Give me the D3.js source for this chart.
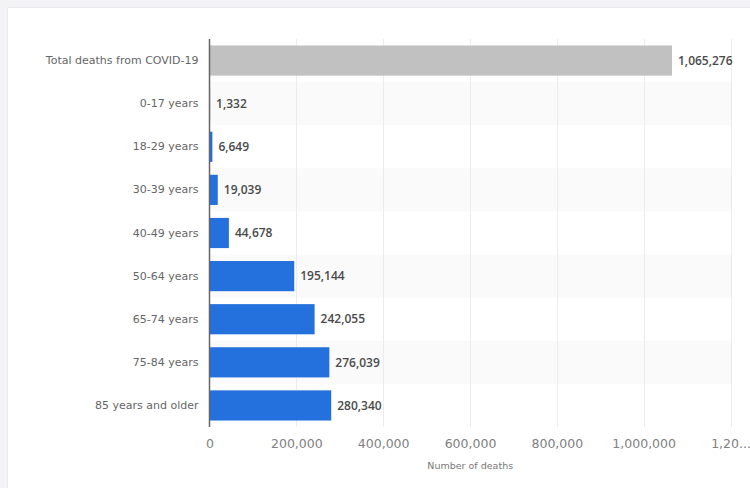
<!DOCTYPE html>
<html>
<head>
<meta charset="utf-8">
<script src="https://cdn.jsdelivr.net/npm/d3@7"></script>
<style>
  body { margin: 0; background: #f3f3f6; }
  #container { width: 750px; height: 488px; position: relative; overflow: hidden; }
  svg { font-family: "DejaVu Sans", Verdana, sans-serif; }
</style>
</head>
<body>
<div id="container"></div>
<script>
const categories = ['Total deaths from COVID-19', '0-17 years', '18-29 years', '30-39 years',
    '40-49 years', '50-64 years', '65-74 years', '75-84 years', '85 years and older']
const deaths = [1065276, 1332, 6649, 19039, 44678, 195144, 242055, 276039, 280340]
const xTicks = [0, 200000, 400000, 600000, 800000, 1000000, 1200000]
const xTickLabels = ['0', '200,000', '400,000', '600,000', '800,000', '1,000,000', '1,20...']

const specs = { width: 750, height: 488, margin: { top: 39, right: 19, bottom: 61, left: 209.5 } }

const svg = d3.select('#container')
    .append('svg').attr('width', specs.width).attr('height', specs.height)

// white card
svg.append('rect')
    .attr('x', 7.5).attr('y', 7.5)
    .attr('width', specs.width).attr('height', specs.height)
    .attr('fill', '#fff').attr('stroke', '#ebebef')

const x0 = specs.margin.left
const x1 = specs.width - specs.margin.right
const y0 = specs.margin.top
const y1 = specs.height - specs.margin.bottom

const xScale = d3.scaleLinear().domain([0, 1200000]).range([x0, x1 - 0.5])
const yScale = d3.scaleBand().domain(categories).range([y0, y1]).paddingInner(0.3).paddingOuter(0.15)
const rowScale = d3.scaleBand().domain(categories).range([y0, y1])

// alternating row bands
svg.append('g').selectAll('rect')
    .data(categories.filter((d, i) => i % 2 === 1))
    .join('rect')
    .attr('x', x0).attr('width', x1 - x0)
    .attr('y', d => rowScale(d)).attr('height', rowScale.bandwidth())
    .attr('fill', '#fafafa')

// gridlines
svg.append('g').selectAll('line')
    .data(xTicks.slice(1))
    .join('line')
    .attr('x1', d => Math.round(xScale(d)) + 0.5).attr('x2', d => Math.round(xScale(d)) + 0.5)
    .attr('y1', y0).attr('y2', y1)
    .attr('stroke', '#ececec')

// bars
svg.append('g').selectAll('rect')
    .data(deaths)
    .join('rect')
    .attr('x', xScale(0))
    .attr('y', (d, i) => yScale(categories[i]))
    .attr('width', d => xScale(d) - xScale(0))
    .attr('height', yScale.bandwidth())
    .attr('fill', (d, i) => i === 0 ? '#c1c1c1' : '#2470dc')

// value labels
svg.append('g').selectAll('text')
    .data(deaths)
    .join('text')
    .attr('x', d => xScale(d) + 6)
    .attr('y', (d, i) => yScale(categories[i]) + yScale.bandwidth() / 2)
    .attr('dy', '0.35em')
    .attr('font-size', 12)
    .attr('font-weight', 600)
    .attr('font-family', '"Open Sans", sans-serif')
    .attr('fill', '#4a4a4a')
    .text(d => d3.format(',')(d))

// y axis
const yAxis = d3.axisLeft(yScale).tickSize(0).tickPadding(11)
const gy = svg.append('g').attr('transform', `translate(${x0},0)`).call(yAxis)
gy.select('.domain').remove()
gy.selectAll('text').attr('font-size', 11).attr('fill', '#666').attr('font-family', '"DejaVu Sans", sans-serif')
svg.append('line')
    .attr('x1', x0).attr('x2', x0).attr('y1', y0).attr('y2', y1)
    .attr('stroke', '#666').attr('stroke-width', 1.5)

// x axis
const xAxis = d3.axisBottom(xScale).tickValues(xTicks).tickSize(0).tickPadding(12)
    .tickFormat((d, i) => xTickLabels[i])
const gx = svg.append('g').attr('transform', `translate(0,${y1})`).call(xAxis)
gx.select('.domain').remove()
gx.selectAll('text').attr('font-size', 12.5).attr('fill', '#808080').attr('font-family', '"DejaVu Sans", sans-serif')

svg.append('text')
    .attr('x', (x0 + x1) / 2).attr('y', 469)
    .attr('text-anchor', 'middle')
    .attr('font-size', 9.5)
    .attr('fill', '#777')
    .text('Number of deaths')
</script>
</body>
</html>
